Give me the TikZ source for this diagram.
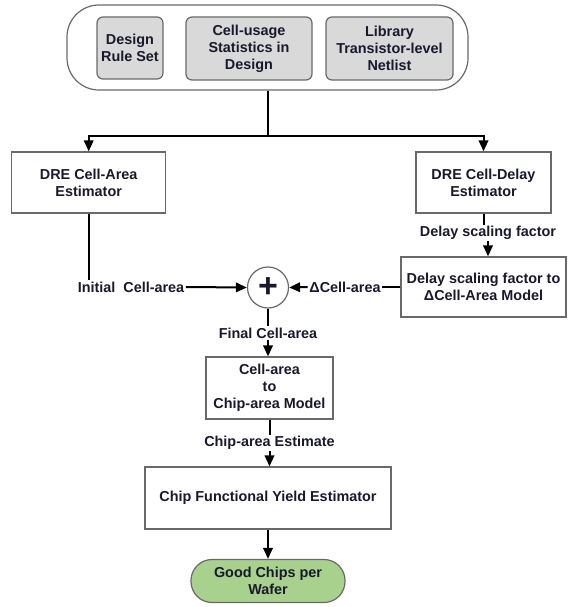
\documentclass[tikz,border=0pt]{standalone}
\usepackage{fontspec}
\setmainfont{Liberation Sans}
\usetikzlibrary{arrows.meta}

\definecolor{ink}{RGB}{25,25,45}
\definecolor{frame}{RGB}{105,105,105}
\definecolor{inputfill}{RGB}{217,217,217}
\definecolor{outfill}{RGB}{169,209,142}

\begin{document}
\begin{tikzpicture}[x = 1pt, y = -1pt,
                    font = \fontsize{14.4}{17}\selectfont\bfseries,
                    every node/.style = {text = ink, align = center},
                    block/.style = {draw = frame, line width = 1.2pt, fill = white,
                                    inner sep = 0pt},
                    inputbox/.style = {block, fill = inputfill, rounded corners = 6pt},
                    label/.style = {inner sep = 1.5pt},
                    link/.style = {line width = 2pt},
                    flow/.style = {link, -{Triangle[length = 11pt, width = 9.5pt]}}]

    \useasboundingbox (0,0) rectangle (567,607);

    % inputs
    \node[block, rounded corners = 32pt, minimum width = 401pt, minimum height = 85pt]
        (inputs) at (267.5,47.5) {};
    \node[inputbox, minimum width = 66pt, minimum height = 62pt]
        (rules) at (130,48) {Design\\Rule Set};
    \node[inputbox, minimum width = 126pt, minimum height = 63pt]
        (stats) at (249,48.5) {Cell-usage\\Statistics in\\Design};
    \node[inputbox, minimum width = 127pt, minimum height = 63pt]
        (netlist) at (389.5,48.5) {Library\\Transistor-level\\Netlist};

    % estimators
    \node[block, minimum width = 154pt, minimum height = 61pt]
        (area) at (88.7,182.5) {DRE Cell-Area\\Estimator};
    \node[block, minimum width = 135pt, minimum height = 61pt]
        (delay) at (483.5,182.5) {DRE Cell-Delay\\Estimator};
    \node[block, minimum width = 165pt, minimum height = 60pt]
        (model) at (483.5,287) {Delay scaling factor to\\ΔCell-Area Model};

    % sum
    \node[draw = frame, line width = 1.2pt, circle, minimum size = 41pt, inner sep = 0pt]
        (sum) at (268,287.5) {\fontsize{34}{34}\selectfont +};

    % chip level
    \node[block, minimum width = 127pt, minimum height = 62pt]
        (chiparea) at (269.5,388) {Cell-area\\to\\Chip-area Model};
    \node[block, minimum width = 246pt, minimum height = 62pt]
        (yield) at (268,498) {Chip Functional Yield Estimator};
    \node[block, fill = outfill, rounded corners = 21pt, minimum width = 154pt,
          minimum height = 43pt]
        (wafer) at (268,581) {Good Chips per\\Wafer};

    % signal labels
    \node[label] (scale)   at (488,233)   {Delay scaling factor};
    \node[label] (initial) at (131,287)   {Initial\ \ Cell-area};
    \node[label] (deltaca) at (345,287)   {ΔCell-area};
    \node[label] (final)   at (268,333)   {Final Cell-area};
    \node[label] (estim)   at (269.5,443) {Chip-area Estimate};

    % connectors
    \draw[link] (inputs.south) -- ++(0,45) coordinate (split);
    \draw[flow] (split) -| (area.north);
    \draw[flow] (split) -| (delay.north);

    \draw[link] (area.south) -- (area.south |- initial.north);
    \draw[flow] (initial.east) -- (sum.west);

    \draw[link] (delay.south) -- (delay.south |- scale.north);
    \draw[flow] (scale.south) -- (scale.south |- model.north);
    \draw[link] (model.west) -- (deltaca.east);
    \draw[flow] (deltaca.west) -- (sum.east);

    \draw[link] (sum.south) -- (final.north);
    \draw[flow] (final.south) -- (final.south |- chiparea.north);
    \draw[link] (chiparea.south) -- (chiparea.south |- estim.north);
    \draw[flow] (estim.south) -- (estim.south |- yield.north);
    \draw[flow] (yield.south) -- (yield.south |- wafer.north);

\end{tikzpicture}
\end{document}
